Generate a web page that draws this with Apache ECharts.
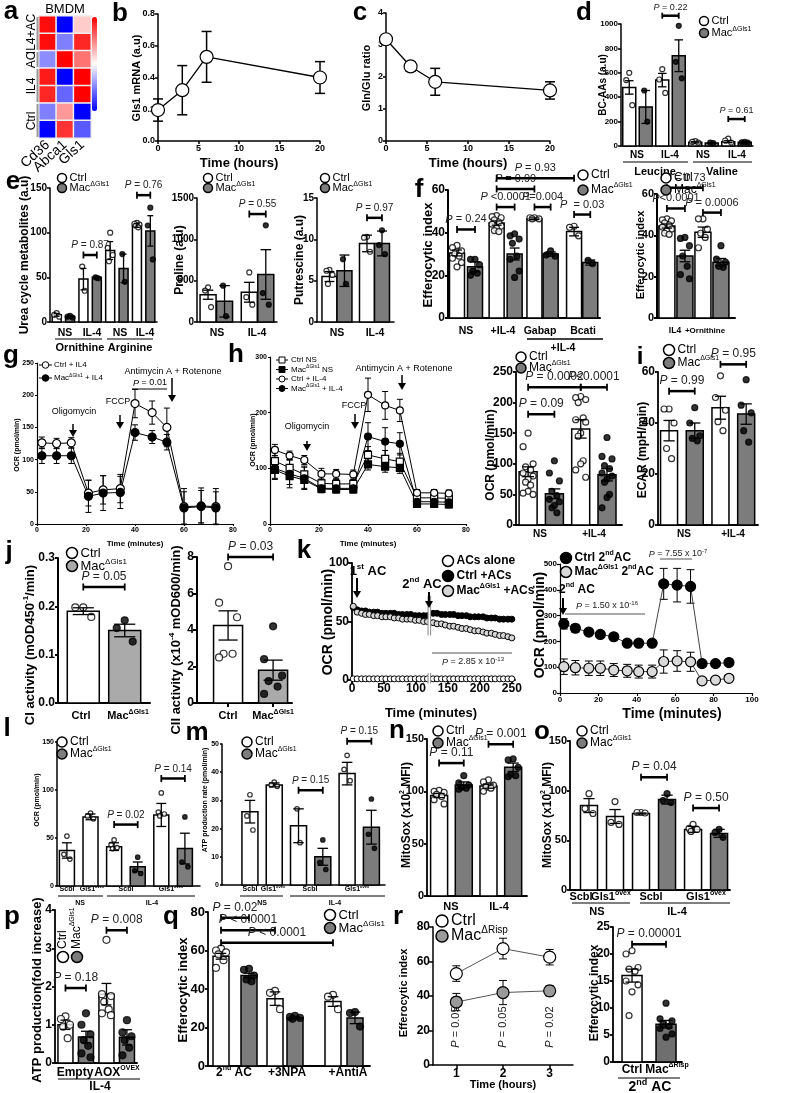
<!DOCTYPE html>
<html><head><meta charset="utf-8"><title>Figure</title>
<script src="https://cdn.jsdelivr.net/npm/echarts@6.0.0/dist/echarts.min.js"></script>
<style>html,body{margin:0;padding:0;background:#fff;}#chart{width:800px;height:1093px;}</style>
</head><body><div id="chart"></div>
<script>
// ================= DATA =================
// a: heatmap
const aCols = ['Cd36','Abca1','Gls1'];
const aRows = ['IL4+AC-1','IL4+AC-2','AC','IL4-1','IL4-2','Ctrl-1','Ctrl-2'];
const aVals = [[0.95,-1,0.2],[0.95,-0.5,0.85],[-0.45,1,0.55],[0.9,-1,1],[0.85,-0.6,1],[-0.5,0.4,-1],[-1,0.8,-0.65]];
// b
const bTime=[0,3,6,20], bMean=[0.195,0.32,0.53,0.40], bErr=[0.07,0.155,0.16,0.10];
// c
const cTime=[0,3,6,20], cMean=[3.18,2.33,1.85,1.58], cErr=[0.1,0.15,0.42,0.27];
// d
const dMean=[480,320,540,740,30,25,35,30], dErr=[55,135,55,130,5,3,8,4];
const dDots=[[600,540,335],[455,200],[630,545,435],[985,690,555],[40,33,28],[28,24],[60,45,28],[33,30,28]];
const dFill=['w','g','w','g','w','g','w','g'];
const dP=[[2,3,1068,' = 0.22'],[6,7,221,' = 0.61']];
// e (urea cycle)
const eUMean=[8,6,48,50,80,60,108,102], eUErr=[1.5,1,12,1,10,16,2,17];
const eUDots=[[10,8,6],[7,6,5],[62,35],[50,49],[100,83,75,68],[76,45],[111,110,109,108,106],[128,108,70]];
const eUFill=['w','g','w','g','w','g','w','g'];
const eUP=[[2,3,75,' = 0.87'],[6,7,142,' = 0.76']];
// e (proline)
const ePMean=[330,250,360,575], ePErr=[55,190,120,300];
const ePDots=[[420,380,180],[440,70],[600,300,210],[1170,350,210]];
const ePP=[[2,3,1306,' = 0.55']];
// e (putrescine)
const eQMean=[5.5,6.2,9.5,9.5], eQErr=[0.6,1.9,1.0,1.5];
const eQDots=[[6.3,6.2,5.7,4.6],[7.6,4.6],[10.3,10.2,8.5],[11.1,9.3,8.2]];
const eQP=[[2,3,12.6,' = 0.97']];
const fill4=['w','g','w','g'];
// f (left)
const fMean=[30.5,24,44.5,30,46.5,30,40.5,26], fErr=[1.4,2.3,1.0,2.8,0.4,1.0,2.0,1.2];
const fDots=[[34,33,31.5,30,29,28,26,24],[27.5,27.5,25,22,21,20],[48,47.5,47,46,45,44,43,42,41,40.5],[39.5,38.5,37,35,29,27.5,22,19],[47,47,46.5,46.5],[31.5,29.5,29],[43,42.5,38.5],[27,25.5]];
const fP=[[0,1,41.5,' = 0.24'],[2,3,52,' <0.0001'],[4,5,52,'=0.004'],[6,7,48.5,'  = 0.03'],[2,4,60.5,' = 0.99'],[2,6,65.5,' = 0.93']];
// f (right)
const f2Mean=[44.5,30,41.5,27], f2Err=[1.0,2.8,2.5,1.8];
const f2Dots=[[48,47.5,47,46,45,44,43,42,41,40.5],[39,38.5,35,30,25,21,19],[48,48,43,41,39,34],[35,28.5,27,25,24.5]];
const f2P=[[0,2,63,' = 0.73'],[0,1,53,'<0.0001'],[2,3,51,' = 0.0006']];
// g (Seahorse, minutes)
const gTime=[2,8,14,21,27,34,40,47,53,60,67,73];
const gCtrl=[126,125,126,48,53,55,187,173,150,27,28,27], gCtrlErr=[9,8,8,20,22,22,22,18,30,28,28,28];
const gMac=[106,106,106,43,48,49,142,135,127,25,27,25], gMacErr=[12,12,12,25,27,25,12,10,12,25,25,25];
// h (Seahorse, minutes)
const hTime=[2,8,14,21,27,34,40,47,53,60,67,73];
const hCtrlNS=[113,101,89,73,72,72,124,117,112,47,47,46], hCtrlNSErr=[15,15,15,8,8,8,15,15,15,8,8,8];
const hMacNS=[97,86,79,63,62,62,107,103,101,36,36,35], hMacNSErr=[15,15,15,6,6,6,10,10,10,6,6,6];
const hCtrlIL4=[133,123,115,90,90,89,232,213,204,56,56,55], hCtrlIL4Err=[10,8,8,10,8,8,30,25,20,6,6,6];
const hMacIL4=[100,90,82,64,64,64,157,148,144,40,40,39], hMacIL4Err=[20,25,20,8,8,8,25,25,20,6,6,6];
// h (OCR bars)
const hOMean=[87,51,157,82], hOErr=[8,8,15,10];
const hODots=[[150,128,100,95,90,85,80,75,70,65,55,52,50],[105,85,72,55,48,42,38,32,28,20],[210,208,205,200,175,172,168,150,145,105,100,90,78],[143,112,108,97,92,85,80,75,70,50,45,28]];
const hOP=[[0,1,181,' = 0.09'],[0,2,225,' = 0.0002'],[2,3,225,'<0.0001']];
// i
const iMean=[37,37,46,43.5], iErr=[4,3,4.5,4];
const iDots=[[45.5,45.5,40,30,26],[46,40,35,34,33],[58.5,50,45,40.5,37],[57,47,44,37,32.5]];
const iP=[[0,1,52.5,' = 0.99'],[2,3,63,' = 0.95']];
// j
const j1Mean=[0.19,0.15], j1Err=[0.007,0.013], j1Dots=[[0.198,0.198,0.178],[0.171,0.155,0.127]], j1P=[[0,1,0.24,' = 0.05']];
const j2Mean=[4.25,1.8], j2Err=[0.8,0.55], j2Dots=[[7.5,5.5,4.7,2.7,2.7,2.5],[4.2,2.4,1.5,1.2,0.9,0.5]], j2P=[[0,1,8.0,' = 0.03']];
// k (left, continuous efferocytosis)
const kTime=[2,8,15,21,27,34,40,47,53,60,66,73,79,86,92,99,105,112,118,127,133,140,146,153,159,166,172,179,185,192,198,205,211,218,224,231,237,244,250];
const kAlone=[1,1,1,1,1,1,1,1,1,1,1,1,1,1,1,1,1,1,1,1,1,1,1,1,1,1,1,1,1,1,1,1,1,1,1,1,1,1,1];
const kCtrl=[62,60,59,59,58,58,58,57,57,57,57,56,56,56,56,55,55,55,55,57,57,56,56,56,56,55,55,55,54,54,54,54,53,53,53,52,52,52,52];
const kMac=[63,58,57,56,56,55,55,54,54,54,53,53,52,52,52,51,51,50,50,49,48,48,47,46,46,45,44,44,43,42,42,41,40,40,39,38,38,37,36];
// k (right)
const kRTime=[2,8,15,21,28,35,41,48,54,61,68,74,81,88];
const kRCtrl=[268,251,236,227,218,193,193,193,423,418,413,114,114,118], kRCtrlErr=[20,15,10,8,8,8,8,8,60,65,65,8,8,8];
const kRMac=[102,98,96,96,89,86,83,83,122,124,121,47,50,57], kRMacErr=[30,28,28,28,25,25,25,25,45,40,37,8,8,8];
// l
const lMean=[37,72,41,20,74,39], lErr=[8,3,4,5,12,16];
const lDots=[[52,33,28],[76,73,70],[48,43,40,39],[30,16,13],[97,77,75,73],[72,25,20]];
const lP=[[2,3,64,' = 0.02'],[4,5,112,' = 0.14']];
const fill6=['w','w','w','g','w','g'];
// m
const mMean=[26,35.5,21,10,39.5,20.5], mErr=[4,0.7,6,3,4,6];
const mDots=[[32,24.5,19.5],[36.5,35.5,35],[27,15],[16,8,5.5],[46,41,37],[30.5,18,13]];
const mP=[[2,3,33.6,' = 0.15'],[4,5,51,' = 0.15']];
// n
const nMean=[96,106,105,123], nErr=[2,3,2,4];
const nDots=[[101,100,99,97,95,92,88],[115,108,106,104,103,102],[111,109,106,104,103,100],[131,130,123,116,115,114]];
const nP=[[0,1,127,' = 0.11'],[2,3,145,' = 0.001']];
// o
const oMean=[85,74,77,91,61,57], oErr=[7,7,0.5,4.5,3,4];
const oDots=[[97,82,77],[89,68,66],[78,78,77.5],[97,90,88],[66,62,61,59],[61,58,53]];
const oP=[[2,3,113.5,' = 0.04'],[4,5,82.5,' = 0.50']];
// p
const pMean=[1.0,0.68,1.8,0.67], pErr=[0.12,0.15,0.28,0.2];
const pDots=[[1.22,1.15,1.0,0.95,0.65],[1.3,1.0,0.75,0.6,0.45,0.25,0.15],[3.22,1.8,1.75,1.6,1.4,1.3,1.25],[1.12,0.8,0.7,0.6,0.4,0.2]];
const pP=[[0,1,1.96,' = 0.18'],[2,3,3.47,' = 0.008']];
// q
const qMean=[57,47,35,25,33.5,25], qErr=[1.5,1.2,3.5,0.6,2.5,3];
const qDots=[[61,60,59,58,55,51],[50.5,50,47,45,44],[39,38,29.5],[26,25.5,25,24.5],[37,36,29.5],[28,27.5,20.5]];
const qFill=['w','g','w','g','w','g'];
const qP=[[0,1,77,' = 0.02'],[0,2,70.5,' < 0.0001'],[0,4,64,' < 0.0001']];
// r
const rTime=[1,2,3], rCtrl=[53,67.5,62.5], rCtrlErr=[4.5,6,4.5], rMac=[36.5,42,43], rMacErr=[5,7,3];
const rPLabels=[' = 0.05',' = 0.05',' = 0.02'];
const r2Mean=[16,7], r2Err=[1.2,0.7];
const r2Dots=[[20.6,20,17.5,17.2,16.8,15,14.3,13,8.6],[10.9,8,7.6,7,6.6,6.2,5.2,4.6]];
const r2P=[[0,1,21.8,' = 0.00001']];

// ================= BUILDERS =================
const FF="'Liberation Sans', Arial, Helvetica, sans-serif";
const GRAY='#7c7c7c';
const opt={animation:false, backgroundColor:'#ffffff', grid:[], xAxis:[], yAxis:[], series:[], graphic:[], visualMap:[]};

function rich(fs,fw,c){
  c=c||'#000';
  return {
    s:{fontSize:Math.round(fs*0.62), fontWeight:fw, fontFamily:FF, verticalAlign:'top', fill:c, color:c},
    i:{fontSize:fs, fontWeight:fw, fontStyle:'italic', fontFamily:FF, fill:c, color:c}
  };
}
function txt(x,y,text,o){
  o=o||{};
  const fs=o.fs||12, fw=o.fw||'normal', c=o.color||'#000';
  opt.graphic.push({type:'text', x:x, y:y, rotation:o.rot||0, z:100, silent:true,
    style:{text:text, fill:c, font:fw+' '+fs+'px '+FF, align:o.align||'center', verticalAlign:o.va||'middle', lineHeight:Math.round(fs*1.3), rich:rich(fs,fw,c)}});
}
function ytitle(x,y,text,fs){ txt(x,y,text,{fs:fs,fw:'bold',rot:Math.PI/2}); }
function gline(x1,y1,x2,y2,w,c){ opt.graphic.push({type:'line', silent:true, z:100, shape:{x1:x1,y1:y1,x2:x2,y2:y2}, style:{stroke:c||'#000', lineWidth:w||1.5}}); }
function circ(x,y,r,fill,lw){ opt.graphic.push({type:'circle', silent:true, z:101, shape:{cx:x,cy:y,r:r}, style:{fill:fill, stroke:'#000', lineWidth:lw||1.5}}); }
function sq(x,y,s,fill,lw){ opt.graphic.push({type:'rect', silent:true, z:101, shape:{x:x-s/2,y:y-s/2,width:s,height:s}, style:{fill:fill, stroke:'#000', lineWidth:lw||1}}); }
function arrowDown(x,y1,y2,w){ w=w||1.5; gline(x,y1,x,y2-5,w); opt.graphic.push({type:'polygon', silent:true, z:100, shape:{points:[[x-4,y2-7],[x+4,y2-7],[x,y2]]}, style:{fill:'#000'}}); }
function legend(x,y,dy,r,fs,labels,fills,fw){ labels.forEach((l,i)=>{ circ(x,y+i*dy,r,fills[i]); txt(x+r+3,y+i*dy,l,{fs:fs,align:'left',fw:fw||'normal'}); }); }
const numFmt=v=>String(Math.round(v*1000)/1000);

function panel(p){
  const gi=opt.grid.length, r=p.rect, lw=p.lw||1.5;
  opt.grid.push({left:r[0], top:r[1], width:r[2], height:r[3]});
  const lab=fs=>({show:true, color:'#000', fontWeight:'bold', fontSize:fs, fontFamily:FF, margin:p.lm||3, formatter:numFmt});
  const xa={gridIndex:gi, type:'value', min:p.x[0], max:p.x[1], axisLine:{show:true,onZero:false,lineStyle:{color:'#000',width:lw}}, axisTick:{show:false}, axisLabel:{show:false}, splitLine:{show:false}};
  if(p.xl){
    if(p.x[2]) xa.interval=p.x[2];
    xa.axisTick={show:true, length:p.tl||3, lineStyle:{color:'#000',width:lw}};
    xa.axisLabel=lab(p.xfs||p.fs);
    if(p.xc){ xa.axisTick.customValues=p.xc; xa.axisLabel.customValues=p.xc; }
    if(p.xNoLab) xa.axisLabel.show=false;
  }
  const ya={gridIndex:gi, type:'value', min:p.y[0], max:p.y[1], interval:p.y[2], axisLine:{show:true,onZero:false,lineStyle:{color:'#000',width:lw}}, axisTick:{show:true, length:p.tl||3, lineStyle:{color:'#000',width:lw}}, axisLabel:lab(p.fs), splitLine:{show:false}};
  if(p.yfmt) ya.axisLabel.formatter=p.yfmt;
  opt.xAxis.push(xa); opt.yAxis.push(ya);
  return gi;
}
function errItem(cw,lw){
  return function(params,api){
    const x=api.value(0), m=api.value(1), e=api.value(2);
    const hi=api.coord([x,m+e]), lo=api.coord([x,m-e]);
    const st={stroke:'#000', lineWidth:lw};
    return {type:'group', children:[
      {type:'line', shape:{x1:hi[0],y1:hi[1],x2:lo[0],y2:lo[1]}, style:st},
      {type:'line', shape:{x1:hi[0]-cw,y1:hi[1],x2:hi[0]+cw,y2:hi[1]}, style:st},
      {type:'line', shape:{x1:lo[0]-cw,y1:lo[1],x2:lo[0]+cw,y2:lo[1]}, style:st}]};
  };
}
function jit(k,n){
  if(n<=1) return 0;
  if(n===2) return [-0.5,0.5][k];
  const pat=[0,-1,1,-0.5,0.5,-1,1,0,-0.5,0.5,0,-1,1];
  return pat[k%pat.length];
}
function brackets(gi,p,list){
  const fs=p.pfs||11;
  opt.series.push({type:'custom', xAxisIndex:gi, yAxisIndex:gi, z:6, silent:true, data:list.map((b,i)=>[b[0],b[1],b[2],i]),
    renderItem:function(params,api){
      const i=api.value(3);
      const a=api.coord([api.value(0),api.value(2)]), b=api.coord([api.value(1),api.value(2)]);
      const h=p.bh||3.5, lw=p.brw||2.5;
      return {type:'group', children:[
        {type:'line', shape:{x1:a[0],y1:a[1],x2:b[0],y2:b[1]}, style:{stroke:'#000',lineWidth:lw}},
        {type:'line', shape:{x1:a[0],y1:a[1]-h,x2:a[0],y2:a[1]+h}, style:{stroke:'#000',lineWidth:lw*0.7}},
        {type:'line', shape:{x1:b[0],y1:b[1]-h,x2:b[0],y2:b[1]+h}, style:{stroke:'#000',lineWidth:lw*0.7}},
        {type:'text', x:(a[0]+b[0])/2, y:a[1]-h-1, style:{text:'{i|P}'+list[i][3], font:'normal '+fs+'px '+FF, fill:'#222', align:'center', verticalAlign:'bottom', rich:rich(fs,'normal','#222')}}]};
    }});
}
function bars(p,mean,err,dots,fills,plist){
  const gi=panel(p);
  const pos=p.pos||mean.map((_,i)=>i);
  const unit=(p.x[1]-p.x[0])/p.rect[2];
  const bw=p.bw, gcol=p.gray||GRAY;
  opt.series.push({type:'custom', xAxisIndex:gi, yAxisIndex:gi, z:2, silent:true, data:mean.map((m,i)=>[pos[i],m,i]),
    renderItem:function(params,api){
      const i=api.value(2), x=api.value(0), v=api.value(1);
      const tp=api.coord([x,v]), bs=api.coord([x,p.y[0]]);
      return {type:'rect', shape:{x:tp[0]-bw/2,y:tp[1],width:bw,height:bs[1]-tp[1]}, style:{fill:fills[i]==='g'?gcol:'#fff', stroke:'#000', lineWidth:p.blw||1.5}};
    }});
  const dd=[];
  dots.forEach((arr,i)=>{ arr.forEach((v,k)=>{ const off=jit(k,arr.length)*(p.spread||bw*0.28)*unit; dd.push({value:[pos[i]+off,v], itemStyle:{color:fills[i]==='g'?'#000':'#fff'}}); }); });
  opt.series.push({type:'scatter', xAxisIndex:gi, yAxisIndex:gi, z:3, silent:true, symbol:'circle', symbolSize:p.ds||5, data:dd, itemStyle:{borderColor:'#000', borderWidth:p.dlw||1.2}});
  opt.series.push({type:'custom', xAxisIndex:gi, yAxisIndex:gi, z:4, silent:true, data:mean.map((m,i)=>[pos[i],m,err[i]]), renderItem:errItem(p.capw||bw*0.33, p.elw||1.3)});
  if(plist) brackets(gi,p,plist.map(b=>[pos[b[0]],pos[b[1]],b[2],b[3]]));
  return gi;
}
function lines(p,time,sers){
  const gi=panel(p);
  sers.forEach(s=>{
    if(s.err) opt.series.push({type:'custom', xAxisIndex:gi, yAxisIndex:gi, z:2, silent:true, data:time.map((t,i)=>[t,s.mean[i],s.err[i]]), renderItem:errItem(s.cap||3, s.elw||1)});
    opt.series.push({type:'line', xAxisIndex:gi, yAxisIndex:gi, z:s.z||3, silent:true, data:time.map((t,i)=>[t,s.mean[i]]), symbol:s.sym||'circle', symbolSize:s.size||8, showSymbol:true,
      lineStyle:{color:s.lc||'#000', width:s.lw===undefined?1:s.lw, opacity:s.lw===0?0:1}, itemStyle:{color:s.fill, borderColor:s.stroke||'#000', borderWidth:s.bw||1.2}});
  });
  return gi;
}

// ================= PANELS =================
// ---- a: heatmap ----
(function(){
  const gi=opt.grid.length;
  opt.grid.push({left:39, top:16, width:52, height:122});
  opt.xAxis.push({gridIndex:gi, type:'category', data:aCols, axisLine:{show:false}, axisTick:{show:false}, axisLabel:{interval:0, rotate:42, fontSize:14, color:'#000', fontFamily:FF, margin:5}, splitLine:{show:false}});
  opt.yAxis.push({gridIndex:gi, type:'category', data:aRows, inverse:true, show:false});
  const d=[]; aVals.forEach((row,r)=>row.forEach((v,c)=>d.push([c,r,v])));
  opt.series.push({type:'heatmap', xAxisIndex:gi, yAxisIndex:gi, data:d, silent:true, itemStyle:{borderColor:'#eeeeee', borderWidth:1.5}});
  opt.visualMap.push({type:'continuous', seriesIndex:opt.series.length-1, min:-1, max:1, inRange:{color:['#0000ff','#ffffff','#ff0000']}, left:92, top:17, itemWidth:5, itemHeight:94, calculable:false, showLabel:false, text:null, padding:0, hoverLink:false, borderColor:'#999', borderWidth:0});
  txt(65,9,'BMDM',{fs:13});
  txt(32,34,'IL4+AC',{fs:12,rot:Math.PI/2}); txt(32,60,'AC',{fs:12,rot:Math.PI/2});
  txt(32,86,'IL4',{fs:12,rot:Math.PI/2}); txt(32,121,'Ctrl',{fs:12,rot:Math.PI/2});
  gline(37.5,17,37.5,50,2,'#999'); gline(37.5,52,37.5,67,2,'#999'); gline(37.5,69,37.5,102,2,'#999'); gline(37.5,104,37.5,137,2,'#999');
})();

// ---- b ----
lines({rect:[158,14,162,127], x:[0,20,5], y:[0,0.8,0.2], fs:9, xl:true, yfmt:v=>v.toFixed(1), lw:1.5}, bTime, [{mean:bMean, err:bErr, fill:'#fff', size:13, cap:5, elw:1.5, lw:1.3}]);
txt(239,163,'Time (hours)',{fs:13,fw:'bold'}); ytitle(137,78,'Gls1 mRNA (a.u)',11);
// ---- c ----
lines({rect:[386,13,164,128], x:[0,20,5], y:[0,4,1], fs:9, xl:true, lw:1.5}, cTime, [{mean:cMean, err:cErr, fill:'#fff', size:13, cap:5, elw:1.5, lw:1.3}]);
txt(468,163,'Time (hours)',{fs:13,fw:'bold'}); ytitle(367,78,'Gln/Glu ratio',11);

// ---- d ----
bars({rect:[621,24,132,122], x:[-0.5,7.5], y:[0,1000,200], fs:8, bw:13, ds:5, pfs:9, bh:3, spread:3}, dMean,dErr,dDots,dFill,dP);
ytitle(603,85,'BC-AAs (a.u)',10);
[['NS',637],['IL-4',670],['NS',703],['IL-4',737]].forEach(t=>txt(t[1],155,t[0],{fs:10,fw:'bold'}));
gline(623,162,688,162,1.2); gline(693,162,752,162,1.2);
txt(655,172,'Leucine',{fs:11,fw:'bold'}); txt(722,172,'Valine',{fs:11,fw:'bold'});
legend(704,21,12,4.5,11,['Ctrl','Mac{s|ΔGls1}'],['#fff',GRAY]);

// ---- e ----
bars({rect:[50,188,107,134], x:[-0.5,7.5], y:[0,150,50], fs:10, bw:9, ds:5, pfs:10, spread:2.5}, eUMean,eUErr,eUDots,eUFill,eUP);
ytitle(25,255,'Urea cycle metabolites (a.u)',12);
legend(62,178,10,4.5,11,['Ctrl','Mac{s|ΔGls1}'],['#fff',GRAY]);
[['NS',65],['IL-4',92],['NS',120],['IL-4',145]].forEach(t=>txt(t[1],333,t[0],{fs:10.5,fw:'bold'}));
gline(55,339,102,339,1.2); gline(107,339,153,339,1.2);
txt(80,348,'Ornithine',{fs:11,fw:'bold'}); txt(130,348,'Arginine',{fs:11,fw:'bold'});

bars({rect:[197,198,80,124], x:[-0.67,4.18], pos:[0,1,2.5,3.5], y:[0,1500,500], fs:10, bw:16, ds:5, pfs:10, spread:3}, ePMean,ePErr,ePDots,fill4,ePP);
ytitle(180,260,'Proline (a.u)',12);
legend(208,178,10,4.5,11,['Ctrl','Mac{s|ΔGls1}'],['#fff',GRAY]);
txt(217,333,'NS',{fs:10.5,fw:'bold'}); txt(257,333,'IL-4',{fs:10.5,fw:'bold'});

bars({rect:[317,198,77,124], x:[-0.83,4.3], pos:[0,1,2.5,3.5], y:[0,15,5], fs:10, bw:15, ds:5, pfs:10, spread:3}, eQMean,eQErr,eQDots,fill4,eQP);
ytitle(300,260,'Putrescine (a.u)',12);
legend(325,178,10,4.5,11,['Ctrl','Mac{s|ΔGls1}'],['#fff',GRAY]);
txt(337,333,'NS',{fs:10.5,fw:'bold'}); txt(375,333,'IL-4',{fs:10.5,fw:'bold'});

// ---- f ----
bars({rect:[448,190,152,128], x:[-0.5,7.94], pos:[0,1,2.2,3.2,4.3,5.2,6.5,7.4], y:[0,60,20], fs:12, bw:15, ds:6, pfs:11, lw:2, spread:4.5}, fMean,fErr,fDots,dFill,fP);
ytitle(428,255,'Efferocytic index',13);
legend(583,175,15,5,12,['Ctrl','Mac{s|ΔGls1}'],['#fff',GRAY]);
[['NS',466],['+IL-4',503],['Gabap',540],['Bcati',583]].forEach(t=>txt(t[1],331,t[0],{fs:10.5,fw:'bold'}));
gline(527,339,603,339,1.5); txt(563,348,'+IL-4',{fs:10.5,fw:'bold'});

bars({rect:[657,194,78,124], x:[-0.55,3.78], y:[0,60,20], fs:11, bw:16, ds:6, pfs:11, lw:2, spread:4.5}, f2Mean,f2Err,f2Dots,fill4,f2P);
ytitle(641,255,'Efferocytic index',11);
legend(666,178,12,5,12,['Ctrl','Mac{s|ΔGls1}'],['#fff',GRAY]);
txt(675,331,'IL4',{fs:8.5,fw:'bold'}); txt(705,331,'+Ornithine',{fs:8,fw:'bold'});

// ---- g ----
lines({rect:[37,363,196,161], x:[0,80,20], y:[0,250,50], fs:7, xl:true, lw:1.2, tl:2}, gTime, [
  {mean:gCtrl, err:gCtrlErr, fill:'#fff', size:8, cap:3},
  {mean:gMac, err:gMacErr, fill:'#000', size:8, cap:3}]);
ytitle(17,445,'OCR (pmol/min)',7); txt(135,544,'Time (minutes)',{fs:8,fw:'bold'});
gline(39,365,52,365,1); circ(45.5,365,3.3,'#fff',1); txt(54,365,'Ctrl + IL4',{fs:8,align:'left'});
gline(39,378,52,378,1); circ(45.5,378,3.3,'#000',1); txt(54,378,'Mac{s|ΔGls1} + IL4',{fs:8,align:'left'});
txt(74,412,'Oligomycin',{fs:9}); arrowDown(73,424,437);
txt(118,402,'FCCP',{fs:9}); arrowDown(120,415,429);
txt(173,372,'Antimycin A + Rotenone',{fs:9}); arrowDown(172,378,402);
txt(150,383,'{i|P} = 0.01',{fs:9}); gline(132,389,167,389,1);

// ---- h ----
lines({rect:[270,357,196,167], x:[0,80,20], y:[0,300,100], fs:7, xl:true, lw:1.2, tl:2}, hTime, [
  {mean:hCtrlNS, err:hCtrlNSErr, fill:'#fff', sym:'rect', size:7, cap:3},
  {mean:hMacNS, err:hMacNSErr, fill:'#000', sym:'rect', size:7, cap:3},
  {mean:hCtrlIL4, err:hCtrlIL4Err, fill:'#fff', size:7, cap:3},
  {mean:hMacIL4, err:hMacIL4Err, fill:'#000', size:7, cap:3}]);
ytitle(253,440,'OCR (pmol/min)',7); txt(368,544,'Time (minutes)',{fs:8,fw:'bold'});
[['Ctrl NS','#fff','s'],['Mac{s|ΔGls1} NS','#000','s'],['Ctrl + IL-4','#fff','c'],['Mac{s|ΔGls1} + IL-4','#000','c']].forEach((l,i)=>{
  const y=360+i*9.5; gline(276,y,288,y,1); if(l[2]==='s') sq(282,y,6,l[1]); else circ(282,y,3,l[1],1); txt(291,y,l[0],{fs:8,align:'left'}); });
txt(307,427,'Oligomycin',{fs:9}); arrowDown(307,441,451);
txt(354,406,'FCCP',{fs:9}); arrowDown(355,414,429);
txt(404,369,'Antimycin A + Rotenone',{fs:9}); arrowDown(402,375,390);

bars({rect:[516,372,106,153], x:[-0.46,3.57], y:[0,250,50], fs:12, bw:18, ds:6, pfs:12, lw:1.8, spread:5}, hOMean,hOErr,hODots,fill4,hOP);
ytitle(491,455,'OCR (pmol/min)',12);
legend(521,357,11,5,12,['Ctrl','Mac{s|ΔGls1}'],['#fff',GRAY]);
txt(540,534,'NS',{fs:10,fw:'bold'}); txt(594,534,'+IL-4',{fs:10,fw:'bold'});

// ---- i ----
bars({rect:[658,372,100,153], x:[-0.43,3.46], y:[0,60,20], fs:12, bw:17, ds:6, pfs:12, lw:1.8, spread:5}, iMean,iErr,iDots,fill4,iP);
ytitle(643,450,'ECAR (mpH/min)',12);
legend(669,350,13,5.5,12,['Ctrl','Mac{s|ΔGls1}'],['#fff',GRAY]);
txt(684,534,'NS',{fs:10,fw:'bold'}); txt(733,534,'+IL-4',{fs:10,fw:'bold'});
txt(640,357,'i',{fs:24,fw:'bold'});

// ---- j ----
bars({rect:[58,558,92,145], x:[-0.61,1.61], y:[0,0.3,0.1], fs:12, bw:32, ds:7, pfs:12, lw:2, gray:'#aaaaaa', yfmt:v=>v.toFixed(1), spread:8}, j1Mean,j1Err,j1Dots,['w','g'],j1P);
ytitle(30,645,'CI activity (mOD450{s|-1}/min)',13);
legend(72,553,13,5.5,13,['Ctrl','Mac{s|ΔGls1}'],['#fff','#aaaaaa']);
txt(81,716,'Ctrl',{fs:11,fw:'bold'}); txt(128,716,'Mac{s|ΔGls1}',{fs:11,fw:'bold'});

bars({rect:[197,557,95,146], x:[-0.69,1.42], xl:true, xc:[0,1], xNoLab:true, tl:4, y:[0,8,2], fs:12, bw:29, ds:7, pfs:12, lw:2, gray:'#aaaaaa', spread:9}, j2Mean,j2Err,j2Dots,['w','g'],j2P);
ytitle(176,640,'CII activity (x10{s|-4} mOD600/min)',13);
txt(228,716,'Ctrl',{fs:11,fw:'bold'}); txt(273,716,'Mac{s|ΔGls1}',{fs:11,fw:'bold'});

// ---- k ----
(function(){
  const gi=lines({rect:[352,563,163,117], x:[0,255,50], y:[0,100,50], fs:12, xl:true, lw:1.8, tl:4}, kTime, [
    {mean:kAlone, fill:'#fff', size:6, lw:0, bw:1},
    {mean:kCtrl, fill:'#000', size:6, lw:0, bw:1},
    {mean:kMac, fill:'#d6d6d6', size:6, lw:0, bw:1}]);
  opt.series.push({type:'custom', xAxisIndex:gi, yAxisIndex:gi, z:8, silent:true, data:[[119,123]],
    renderItem:function(params,api){
      const a=api.coord([api.value(0),72]), b=api.coord([api.value(1),38]);
      const c=api.coord([api.value(0),6]), d=api.coord([api.value(1),-3]);
      return {type:'group', children:[
        {type:'rect', shape:{x:a[0],y:a[1],width:b[0]-a[0],height:b[1]-a[1]}, style:{fill:'#fff',stroke:null}},
        {type:'line', shape:{x1:a[0],y1:a[1],x2:a[0],y2:b[1]}, style:{stroke:'#888',lineWidth:1}},
        {type:'line', shape:{x1:b[0],y1:a[1],x2:b[0],y2:b[1]}, style:{stroke:'#888',lineWidth:1}},
        {type:'rect', shape:{x:c[0],y:c[1],width:d[0]-c[0],height:d[1]-c[1]}, style:{fill:'#fff',stroke:null}},
        {type:'line', shape:{x1:c[0],y1:c[1],x2:c[0],y2:d[1]}, style:{stroke:'#888',lineWidth:1}},
        {type:'line', shape:{x1:d[0],y1:c[1],x2:d[0],y2:d[1]}, style:{stroke:'#888',lineWidth:1}}]};
    }});
})();
ytitle(328,622,'OCR (pmol/min)',14); txt(431,713,'Time (minutes)',{fs:13,fw:'bold'});
txt(368,571,'1{s|st} AC',{fs:13,fw:'bold'}); arrowDown(357,578,598,2);
txt(422,584,'2{s|nd} AC',{fs:13,fw:'bold'}); arrowDown(429,592,608,2);
legend(448,561,15,5.5,12,['ACs alone','Ctrl +ACs','Mac{s|ΔGls1} +ACs'],['#fff','#000','#d6d6d6'],'bold');
gline(432,653,512,653,1,'#555'); txt(473,662,'{i|P} = 2.85 x 10{s|-13}',{fs:9,color:'#222'});

lines({rect:[560,564,192,129], x:[0,100,20], y:[0,500,100], fs:8, xl:true, lw:1.2, tl:3}, kRTime, [
  {mean:kRCtrl, err:kRCtrlErr, fill:'#000', size:10, cap:4, lc:'#444'},
  {mean:kRMac, err:kRMacErr, fill:'#d9d9d9', size:10, cap:4, lc:'#444'}]);
ytitle(540,625,'OCR (pmol/min)',14); txt(672,714,'Time (minutes)',{fs:14,fw:'bold'});
legend(566,558,14,5.5,12,['Ctrl 2{s|nd}AC','Mac{s|ΔGls1} 2{s|nd}AC'],['#000','#d9d9d9'],'bold');
txt(577,590,'2{s|nd} AC',{fs:12,fw:'bold'}); arrowDown(563,598,615,2);
txt(607,606,'{i|P} = 1.50 x 10{s|-16}',{fs:9,color:'#222'}); gline(565,614,645,614,1,'#555');
txt(678,554,'{i|P} = 7.55 x 10{s|-7}',{fs:9,color:'#222'}); gline(660,559,692,559,1,'#555');

// ---- l ----
bars({rect:[57,742,143,144], x:[-0.42,5.64], y:[0,150,50], fs:7, bw:15, ds:4.5, pfs:10, tl:2, spread:3}, lMean,lErr,lDots,fill6,lP);
ytitle(37,800,'OCR (pmol/min)',7);
legend(62,742,12,5,12,['Ctrl','Mac{s|ΔGls1}'],['#fff',GRAY]);
[['Scbl',67],['Gls1{s|ovex}',92],['Scbl',126],['Gls1{s|ovex}',171]].forEach(t=>txt(t[1],889,t[0],{fs:7,fw:'bold'}));
gline(58,896,103,896,1); gline(107,896,195,896,1);
txt(80,903,'NS',{fs:7,fw:'bold'}); txt(152,903,'IL-4',{fs:7,fw:'bold'});

// ---- m ----
bars({rect:[222,744,163,141], x:[-1.15,5.56], y:[0,50,10], fs:7, bw:16, ds:4.5, pfs:10, tl:2, spread:3}, mMean,mErr,mDots,fill6,mP);
ytitle(205,800,'ATP production rate (pmol/min)',7);
legend(247,742,12,5,12,['Ctrl','Mac{s|ΔGls1}'],['#fff',GRAY]);
[['Scbl',250],['Gls1{s|ovex}',273],['Scbl',310],['Gls1{s|ovex}',357]].forEach(t=>txt(t[1],889,t[0],{fs:7,fw:'bold'}));
gline(240,896,283,896,1); gline(290,896,385,896,1);
txt(262,903,'NS',{fs:7,fw:'bold'}); txt(335,903,'IL-4',{fs:7,fw:'bold'});

// ---- n ----
bars({rect:[427,739,100,157], x:[-0.49,3.56], y:[0,150,50], fs:11, bw:17, ds:6, pfs:12, lw:1.8, spread:5}, nMean,nErr,nDots,fill4,nP);
ytitle(407,815,'MitoSox (x10{s|2} MFI)',12);
legend(438,731,12,5,12,['Ctrl','Mac{s|ΔGls1}'],['#fff',GRAY]);
txt(451,907,'NS',{fs:11,fw:'bold'}); txt(499,907,'IL-4',{fs:11,fw:'bold'});

// ---- o ----
bars({rect:[570,741,160,149], x:[-0.73,5.42], y:[0,150,50], fs:11, bw:17, ds:6, pfs:12, lw:1.8, spread:4}, oMean,oErr,oDots,fill6,oP);
ytitle(548,815,'MitoSox (x10{s|2} MFI)',12);
legend(582,731,12,5,12,['Ctrl','Mac{s|ΔGls1}'],['#fff',GRAY]);
[['Scbl',581],['Gls1{s|ovex}',611],['Scbl',651],['Gls1{s|ovex}',706]].forEach(t=>txt(t[1],897,t[0],{fs:11,fw:'bold'}));
gline(572,903,630,903,1.2); gline(640,903,730,903,1.2);
txt(597,912,'NS',{fs:11,fw:'bold'}); txt(677,912,'IL-4',{fs:11,fw:'bold'});

// ---- p ----
bars({rect:[55,910,82,153], x:[-0.51,3.49], y:[0,4,1], fs:12, bw:15, ds:7, pfs:12, lw:1.8, spread:4.5}, pMean,pErr,pDots,fill4,pP);
ytitle(37,990,'ATP production(fold increase)',13);
circ(63,957,5.5,'#fff'); circ(77,957,5.5,GRAY);
txt(63,949,'Ctrl',{fs:12,rot:Math.PI/2,align:'left'}); txt(77,949,'Mac{s|ΔGls1}',{fs:12,rot:Math.PI/2,align:'left'});
txt(75,1073,'Empty',{fs:12,fw:'bold'}); txt(117,1073,'AOX{s|OVEX}',{fs:12,fw:'bold'});
gline(58,1079,140,1079,1.2); txt(100,1087,'IL-4',{fs:12,fw:'bold'});

// ---- q ----
bars({rect:[208,912,162,154], x:[0,8.1], pos:[0.65,2.05,3.35,4.35,6.25,7.35], y:[0,80,20], fs:13, bw:16, ds:7, pfs:12, lw:1.8, spread:5}, qMean,qErr,qDots,qFill,qP);
ytitle(183,990,'Efferocytic index',13);
legend(330,915,13,5.5,13,['Ctrl','Mac{s|ΔGls1}'],['#fff',GRAY]);
txt(234,1073,'2{s|nd} AC',{fs:12,fw:'bold'}); txt(287,1073,'+3NPA',{fs:12,fw:'bold'}); txt(348,1073,'+AntiA',{fs:12,fw:'bold'});

// ---- r ----
(function(){
  const gi=lines({rect:[433,927,140,138], x:[0.5,3.5], xc:[1,2,3], y:[0,80,20], fs:12, xl:true, lw:1.5, tl:4}, rTime, [
    {mean:rCtrl, err:rCtrlErr, fill:'#fff', size:12, cap:4, lc:'#555'},
    {mean:rMac, err:rMacErr, fill:'#9a9a9a', size:12, cap:4, lc:'#555'}]);
  opt.series.push({type:'custom', xAxisIndex:gi, yAxisIndex:gi, z:6, silent:true, data:rTime.map((t,i)=>[t,i]),
    renderItem:function(params,api){
      const pt=api.coord([api.value(0),22]);
      return {type:'text', x:pt[0], y:pt[1], rotation:Math.PI/2, style:{text:'{i|P}'+rPLabels[api.value(1)], font:'normal 11px '+FF, fill:'#222', align:'center', verticalAlign:'middle', rich:rich(11,'normal','#222')}};
    }});
})();
ytitle(404,993,'Efferocytic index',11); txt(503,1085,'Time (hours)',{fs:11,fw:'bold'});
legend(442,921,15,6,16,['Ctrl','Mac{s|ΔRisp}'],['#fff','#9a9a9a']);

bars({rect:[613,927,69,135], x:[-0.56,1.47], y:[0,25,5], fs:12, bw:20, ds:6, pfs:12, lw:1.8, gray:'#6f6f6f', spread:6}, r2Mean,r2Err,r2Dots,['w','g'],r2P);
ytitle(595,993,'Efferocytic index',12);
txt(632,1070,'Ctrl',{fs:12,fw:'bold'}); txt(667,1070,'Mac{s|ΔRisp}',{fs:12,fw:'bold'});
gline(618,1078,680,1078,1.2); txt(650,1087,'2{s|nd} AC',{fs:14,fw:'bold'});

// ---- panel letters ----
[['a',11,12],['b',120,14],['c',360,13],['d',584,13],['e',13,182],['f',419,190],['g',11,356],['h',236,355],
 ['j',9,552],['k',304,551],['l',7,729],['m',197,733],['n',397,731],['o',542,732],['p',12,917],['q',171,917],['r',398,917]]
 .forEach(t=>txt(t[1],t[2],t[0],{fs:26,fw:'bold'}));

const chart=echarts.init(document.getElementById('chart'),null,{renderer:'canvas'});
chart.setOption(opt);
</script></body></html>
